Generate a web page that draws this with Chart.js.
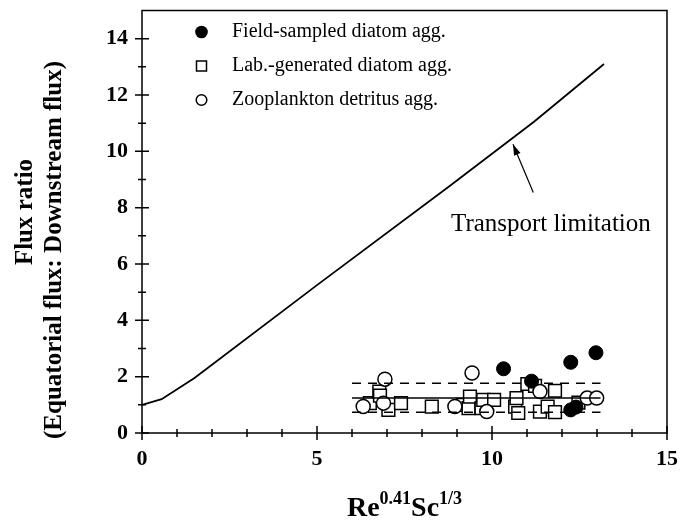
<!DOCTYPE html>
<html>
<head>
<meta charset="utf-8">
<script src="https://cdn.jsdelivr.net/npm/chart.js@4.4.1/dist/chart.umd.min.js"></script>
<style>
  html, body { margin: 0; padding: 0; background: #fff; }
</style>
</head>
<body>
<canvas id="chart" width="684" height="522"></canvas>
<script>
// transport limitation curve
let curveX = [0, 0.56, 1.5, 5, 8.8, 11.2, 13.2];
let curveY = [1, 1.2, 1.95, 5.25, 8.78, 11.05, 13.1];

// field-sampled diatom aggregates (filled circles)
let fieldX = [10.33, 11.13, 12.25, 12.97, 12.25, 12.4];
let fieldY = [2.28, 1.84, 2.51, 2.85, 0.82, 0.92];

// lab-generated diatom aggregates (open squares)
let labX = [6.51, 6.78, 6.8, 7.04, 7.4, 8.28, 9.18, 9.33, 9.37, 9.7, 9.75, 10.06, 10.66, 10.7, 10.75, 11.01, 11.23, 11.37, 11.59, 11.8, 11.8, 12.47];
let labY = [1.06, 1.47, 1.33, 0.82, 1.06, 0.94, 1.0, 0.88, 1.29, 0.88, 1.18, 1.18, 0.94, 1.24, 0.71, 1.74, 1.67, 0.76, 0.94, 0.74, 1.5, 1.08];

// zooplankton detritus aggregates (open circles)
let zooX = [6.32, 6.9, 6.94, 8.94, 9.43, 9.85, 11.37, 12.72, 12.99];
let zooY = [0.94, 1.06, 1.91, 0.94, 2.13, 0.76, 1.47, 1.24, 1.24];

// mean and spread lines
let meanX = [6.0, 13.1];
let meanY = 1.24;
let upperY = 1.77;
let lowerY = 0.74;

// axes
let xTicks = [0, 5, 10, 15];
let yTicks = [0, 2, 4, 6, 8, 10, 12, 14];
let xMinor = [1, 2, 3, 4, 6, 7, 8, 9, 11, 12, 13, 14];
let yMinor = [1, 3, 5, 7, 9, 11, 13];

// annotation
let arrowTail = [11.18, 8.54];
let arrowTip = [10.6, 10.25];

const serif = '"Liberation Serif", "Times New Roman", serif';

function pts(xs, ys) {
    return xs.map((x, i) => ({ x: x, y: ys[i] }));
}
function hline(xs, y) {
    return xs.map(x => ({ x: x, y: y }));
}

const decorPlugin = {
    id: 'decor',
    afterDraw(chart) {
        const ctx = chart.ctx;
        const ca = chart.chartArea;
        const xs = chart.scales.x, ys = chart.scales.y;
        ctx.save();
        ctx.strokeStyle = '#000';
        ctx.fillStyle = '#000';
        ctx.lineWidth = 1.5;
        ctx.strokeRect(ca.left, ca.top, ca.right - ca.left, ca.bottom - ca.top);

        // ticks crossing the axes
        ctx.beginPath();
        xTicks.forEach(v => {
            const p = xs.getPixelForValue(v);
            ctx.moveTo(p, ca.bottom - 7); ctx.lineTo(p, ca.bottom + 7);
        });
        xMinor.forEach(v => {
            const p = xs.getPixelForValue(v);
            ctx.moveTo(p, ca.bottom - 4); ctx.lineTo(p, ca.bottom + 4);
        });
        yTicks.forEach(v => {
            const p = ys.getPixelForValue(v);
            ctx.moveTo(ca.left - 7, p); ctx.lineTo(ca.left + 7, p);
        });
        yMinor.forEach(v => {
            const p = ys.getPixelForValue(v);
            ctx.moveTo(ca.left - 4, p); ctx.lineTo(ca.left + 4, p);
        });
        ctx.stroke();

        // y axis title
        ctx.font = 'bold 25px ' + serif;
        ctx.textAlign = 'center';
        ctx.textBaseline = 'alphabetic';
        ctx.save();
        ctx.translate(32, 212);
        ctx.rotate(-Math.PI / 2);
        ctx.fillText('Flux ratio', 0, 0);
        ctx.restore();
        ctx.save();
        ctx.translate(61, 250);
        ctx.rotate(-Math.PI / 2);
        ctx.fillText('(Equatorial flux: Downstream flux)', 0, 0);
        ctx.restore();

        // x axis title with superscripts
        const parts = [['Re', 28, 0], ['0.41', 18, 12], ['Sc', 28, 0], ['1/3', 18, 12]];
        let total = 0;
        parts.forEach(p => { ctx.font = 'bold ' + p[1] + 'px ' + serif; total += ctx.measureText(p[0]).width; });
        let tx = (ca.left + ca.right) / 2 - total / 2;
        const base = 516;
        ctx.textAlign = 'left';
        parts.forEach(p => {
            ctx.font = 'bold ' + p[1] + 'px ' + serif;
            ctx.fillText(p[0], tx, base - p[2]);
            tx += ctx.measureText(p[0]).width;
        });

        // legend
        const lx = 201.5, tx0 = 232;
        const rows = [32, 66, 100];
        ctx.font = '20px ' + serif;
        ctx.textBaseline = 'middle';
        ctx.lineWidth = 1.5;
        ctx.beginPath(); ctx.arc(lx, rows[0], 6.3, 0, Math.PI * 2); ctx.fill();
        ctx.strokeRect(lx - 5, rows[1] - 5, 10, 10);
        ctx.beginPath(); ctx.arc(lx, rows[2], 5.3, 0, Math.PI * 2); ctx.stroke();
        ctx.fillText('Field-sampled diatom agg.', tx0, rows[0]);
        ctx.fillText('Lab.-generated diatom agg.', tx0, rows[1]);
        ctx.fillText('Zooplankton detritus agg.', tx0, rows[2]);

        // transport limitation label and arrow
        ctx.font = '25px ' + serif;
        ctx.textBaseline = 'alphabetic';
        ctx.fillText('Transport limitation', 451, 231);
        const ax0 = xs.getPixelForValue(arrowTail[0]), ay0 = ys.getPixelForValue(arrowTail[1]);
        const ax1 = xs.getPixelForValue(arrowTip[0]), ay1 = ys.getPixelForValue(arrowTip[1]);
        ctx.lineWidth = 1.2;
        ctx.beginPath(); ctx.moveTo(ax0, ay0); ctx.lineTo(ax1, ay1); ctx.stroke();
        const ang = Math.atan2(ay1 - ay0, ax1 - ax0);
        ctx.beginPath();
        ctx.moveTo(ax1, ay1);
        ctx.lineTo(ax1 - 11 * Math.cos(ang) + 3.5 * Math.sin(ang), ay1 - 11 * Math.sin(ang) - 3.5 * Math.cos(ang));
        ctx.lineTo(ax1 - 11 * Math.cos(ang) - 3.5 * Math.sin(ang), ay1 - 11 * Math.sin(ang) + 3.5 * Math.cos(ang));
        ctx.closePath();
        ctx.fill();
        ctx.restore();
    }
};

new Chart(document.getElementById('chart'), {
    type: 'scatter',
    data: {
        datasets: [
            {
                type: 'line', label: 'Transport limitation', data: pts(curveX, curveY),
                borderColor: '#000', borderWidth: 1.8, pointRadius: 0, fill: false, tension: 0
            },
            {
                type: 'line', label: 'mean', data: hline(meanX, meanY),
                borderColor: '#000', borderWidth: 1.5, pointRadius: 0, fill: false
            },
            {
                type: 'line', label: 'upper', data: hline(meanX, upperY),
                borderColor: '#000', borderWidth: 1.5, borderDash: [9, 7], pointRadius: 0, fill: false
            },
            {
                type: 'line', label: 'lower', data: hline(meanX, lowerY),
                borderColor: '#000', borderWidth: 1.5, borderDash: [9, 7], pointRadius: 0, fill: false
            },
            {
                label: 'Zooplankton detritus agg.', data: pts(zooX, zooY),
                pointStyle: 'circle', pointRadius: 7, backgroundColor: '#fff', borderColor: '#000', borderWidth: 1.5
            },
            {
                label: 'Field-sampled diatom agg.', data: pts(fieldX, fieldY),
                pointStyle: 'circle', pointRadius: 7, backgroundColor: '#000', borderColor: '#000', borderWidth: 1
            },
            {
                label: 'Lab.-generated diatom agg.', data: pts(labX, labY),
                pointStyle: 'rect', pointRadius: 9, backgroundColor: '#fff', borderColor: '#000', borderWidth: 1.5
            }
        ]
    },
    options: {
        responsive: false,
        animation: false,
        devicePixelRatio: 1,
        layout: { padding: { top: 9, right: 17, left: 0, bottom: 0 } },
        plugins: { legend: { display: false }, tooltip: { enabled: false } },
        scales: {
            x: {
                type: 'linear', min: 0, max: 15,
                afterBuildTicks: s => { s.ticks = xTicks.map(v => ({ value: v })); },
                afterFit: s => { s.height = 89; s.paddingLeft = 0; s.paddingRight = 0; },
                grid: { display: false, drawTicks: false },
                border: { display: false },
                ticks: { color: '#000', padding: 13, maxRotation: 0, font: { family: serif, size: 22, weight: 'bold' } }
            },
            y: {
                type: 'linear', min: 0, max: 15,
                afterBuildTicks: s => { s.ticks = yTicks.map(v => ({ value: v })); },
                afterFit: s => { s.width = 142; s.paddingTop = 0; s.paddingBottom = 0; },
                grid: { display: false, drawTicks: false },
                border: { display: false },
                ticks: { color: '#000', padding: 14, font: { family: serif, size: 22, weight: 'bold' } }
            }
        }
    },
    plugins: [decorPlugin]
});
</script>
</body>
</html>
